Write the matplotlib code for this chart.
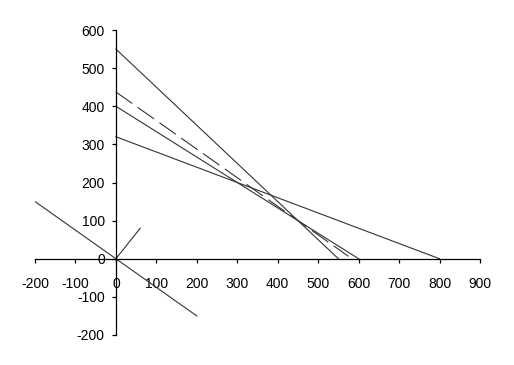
import matplotlib
matplotlib.use("Agg")
import matplotlib.pyplot as plt
import numpy as np

plt.rcParams['font.family'] = ['Liberation Sans', 'DejaVu Sans']
plt.rcParams['axes.unicode_minus'] = False

# constraint lines (x start, x end, y start, y end)
c1_x = [0, 550]; c1_y = [550, 0]      # x + y = 550
c2_x = [0, 600]; c2_y = [400, 0]      # 2x + 3y = 1200
c3_x = [0, 800]; c3_y = [320, 0]      # 2x + 5y = 1600
obj_x = [0, 575]; obj_y = [437.5, 6.25]   # 3x + 4y = 1750 (dashed)
iso_x = [-200, 200]; iso_y = [150, -150]  # 3x + 4y = 0
grad_x = [0, 60]; grad_y = [0, 80]        # gradient direction

xticks = list(range(-200, 1000, 100))
yticks = list(range(-200, 700, 100))

fig = plt.figure(figsize=(5.14, 3.65), dpi=100)
ax = fig.add_axes([35/514, 30/365, 445/514, 305/365])

lc = '#333333'
lw = 0.8
ax.plot(c1_x, c1_y, color=lc, lw=lw)
ax.plot(c2_x, c2_y, color=lc, lw=lw)
ax.plot(c3_x, c3_y, color=lc, lw=lw)
ax.plot(obj_x, obj_y, color=lc, lw=lw, dashes=(18, 6))
ax.plot(iso_x, iso_y, color=lc, lw=lw)
ax.plot(grad_x, grad_y, color=lc, lw=lw)

ax.set_xlim(-200, 900)
ax.set_ylim(-200, 600)
ax.spines['left'].set_position(('data', 0))
ax.spines['bottom'].set_position(('data', 0))
ax.spines['top'].set_visible(False)
ax.spines['right'].set_visible(False)
for s in ('left', 'bottom'):
    ax.spines[s].set_linewidth(0.9)
ax.set_xticks(xticks)
ax.set_yticks(yticks)
ax.tick_params(axis='x', direction='out', length=3, width=0.9, pad=10, labelsize=10)
ax.tick_params(axis='y', direction='out', length=3, width=0.9, pad=5, labelsize=10)
ax.patch.set_alpha(0)

plt.savefig('out.png', dpi=100)
